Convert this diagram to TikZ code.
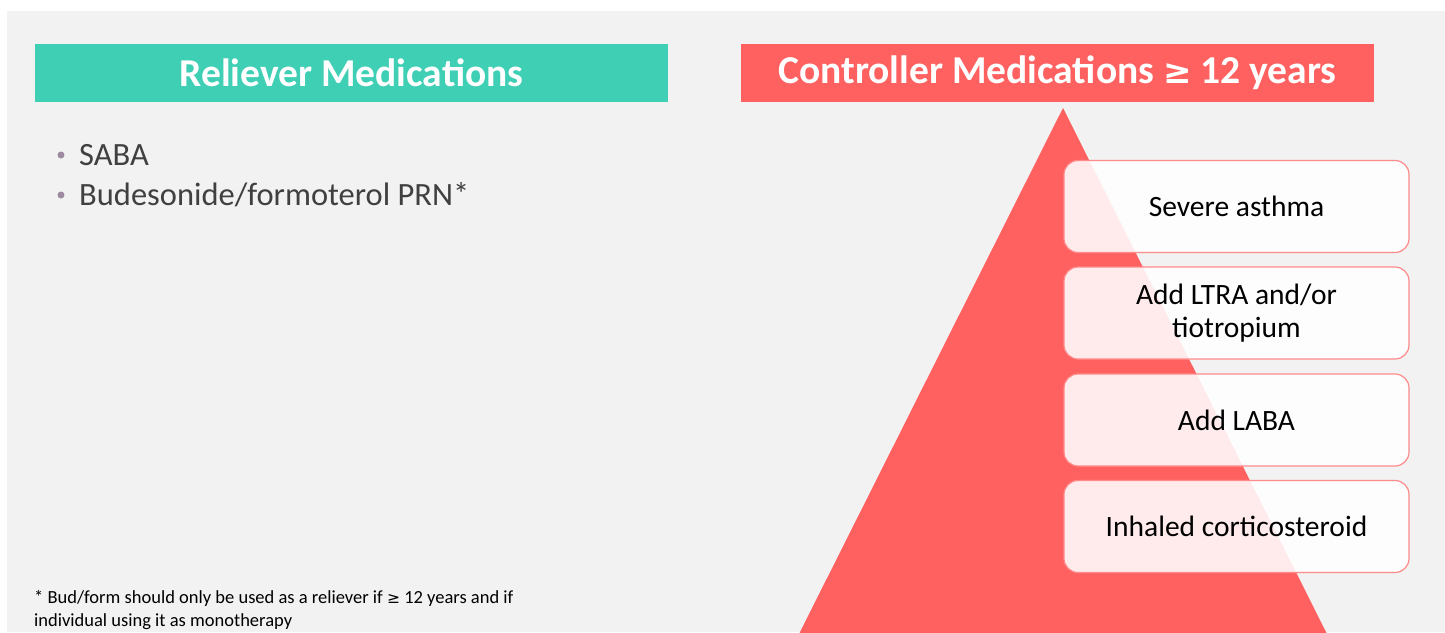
\documentclass[tikz,border=0pt]{standalone}
\usepackage{fontspec}
\setmainfont{Carlito}
\newfontfamily\symfont{DejaVu Sans}
\definecolor{bg}{HTML}{F2F2F2}
\definecolor{teal}{HTML}{3ECFB4}
\definecolor{coral}{HTML}{FF6161}
\definecolor{boxline}{HTML}{FF8A8A}
\definecolor{txt}{HTML}{404040}
\definecolor{bul}{HTML}{9E8AA0}
\tikzset{
  header/.style={minimum width=633pt,minimum height=58pt,inner sep=0pt,text=white,font=\fontsize{39.5}{44}\selectfont\bfseries},
  stepbox/.style={draw=boxline,line width=1.2pt,fill=white,fill opacity=0.88,text opacity=1,rounded corners=14pt,minimum width=345pt,minimum height=92pt,inner sep=0pt,align=center,text=black,font=\fontsize{29.5}{33}\selectfont},
  bullettext/.style={anchor=base west,inner sep=0pt,text=txt,font=\fontsize{32.5}{38}\selectfont},
  dot/.style={circle,fill=bul,inner sep=0pt,minimum size=7pt}
}
\begin{document}
\begin{tikzpicture}[x=1pt,y=-1pt]
\useasboundingbox (0,0) rectangle (1445,632);
\fill[white] (0,0) rectangle (1445,632);
\fill[bg] (7,11) rectangle (1445,632);
\node[header,fill=teal] (rel) at (351.5,73) {Reliever Medications};
\node[header,fill=coral] (con) at (1057.5,73) {Controller Medications {\symfont\fontsize{34}{40}\selectfont ≥} 12 years};
\fill[coral] (1063,108) -- (798,636) -- (1328,636) -- cycle;
\coordinate (apex) at (1063,108);
\node[stepbox] (s1) at (1236.5,206.5) {Severe asthma};
\node[stepbox] (s2) at (1236.5,313) {Add LTRA and/or\\tiotropium};
\node[stepbox] (s3) at (1236.5,420) {Add LABA};
\node[stepbox] (s4) at (1236.5,526.5) {Inhaled corticosteroid};
\node[dot] (d1) at (61,155) {};
\node[bullettext] (b1) at (79,165) {SABA};
\node[dot] (d2) at (61,195) {};
\node[bullettext] (b2) at (79,205) {Budesonide/formoterol PRN*};
\node[anchor=base west,inner sep=0pt,align=left,text=black,font=\fontsize{18.5}{23}\selectfont] (fn) at (34,626) {* Bud/form should only be used as a reliever if {\symfont\fontsize{15.5}{23}\selectfont ≥} 12 years and if\\individual using it as monotherapy};
\end{tikzpicture}
\end{document}
